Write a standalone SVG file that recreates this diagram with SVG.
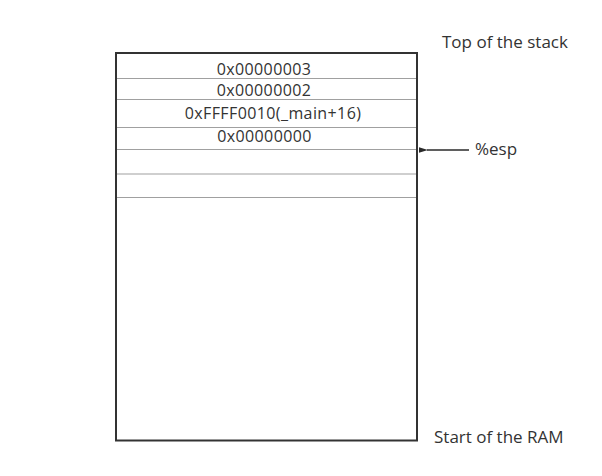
<svg xmlns="http://www.w3.org/2000/svg" width="602" height="476" viewBox="0 0 602 476">
  <defs>
    <style>
      .t { font-family: "Open Sans", "Liberation Sans", sans-serif; font-size: 17px; fill: #333333; }
      .cell { font-family: "Open Sans", "Liberation Sans", sans-serif; font-size: 16px; letter-spacing: 0.4px; fill: #333333; text-anchor: middle; }
      .div { stroke: #a0a0a0; stroke-width: 1.2; fill: none; }
      .frame { stroke: #333333; stroke-width: 2; fill: #ffffff; }
    </style>
    <marker id="ah" viewBox="0 0 10 10" refX="1" refY="5" markerWidth="9" markerHeight="9" orient="auto-start-reverse" markerUnits="userSpaceOnUse">
      <path d="M10,2 L0,5 L10,8 Z" fill="#2a2a2a"/>
    </marker>
  </defs>
  <rect width="602" height="476" fill="#ffffff"/>
  <g id="stack">
    <rect class="frame" x="116" y="53" width="301" height="387.5"/>
    <line class="div" x1="117" y1="78.5" x2="416" y2="78.5"/>
    <line class="div" x1="117" y1="99.5" x2="416" y2="99.5"/>
    <line class="div" x1="117" y1="127.5" x2="416" y2="127.5"/>
    <line class="div" x1="117" y1="149.5" x2="416" y2="149.5"/>
    <line class="div" x1="117" y1="174" x2="416" y2="174"/>
    <line class="div" x1="117" y1="197.5" x2="416" y2="197.5"/>
  </g>
  <g id="cell1"><text class="cell" x="264" y="74.5">0x00000003</text></g>
  <g id="cell2"><text class="cell" x="264" y="95.5">0x00000002</text></g>
  <g id="cell3"><text class="cell" x="273" y="118.5">0xFFFF0010(_main+16)</text></g>
  <g id="cell4"><text class="cell" x="264.5" y="142">0x00000000</text></g>
  <g id="top-label"><text class="t" x="442" y="48">Top of the stack</text></g>
  <g id="ram-label"><text class="t" x="434" y="443">Start of the RAM</text></g>
  <g id="esp-label"><text class="t" x="475" y="155">%esp</text></g>
  <g id="connectors">
    <line x1="469" y1="150" x2="427" y2="150" stroke="#2a2a2a" stroke-width="1.5" marker-end="url(#ah)"/>
  </g>
</svg>
